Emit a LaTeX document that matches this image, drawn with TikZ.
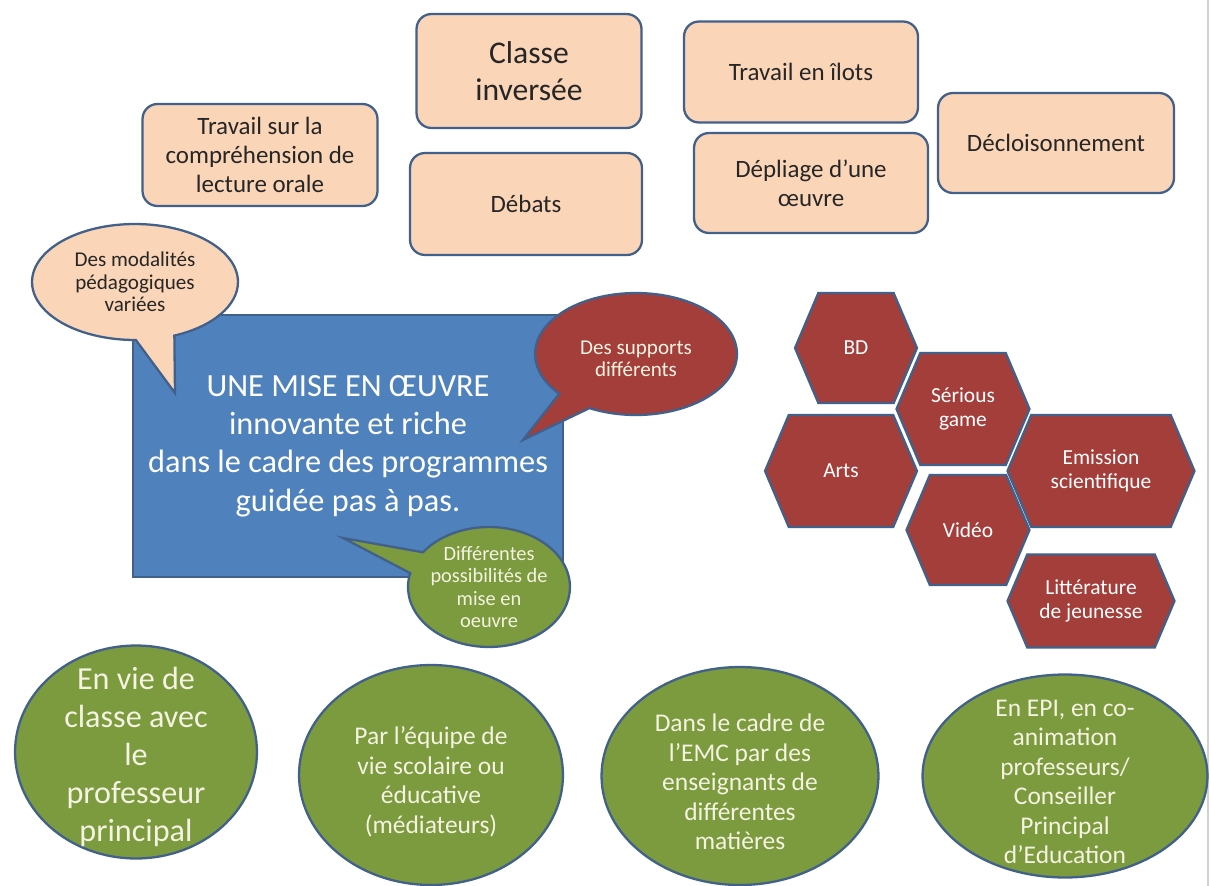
\documentclass[tikz,border=0pt]{standalone}
\usepackage{fontspec}
\setmainfont{Carlito}
\usetikzlibrary{shapes.geometric,shapes.callouts,shapes.symbols}

\definecolor{peach}{HTML}{FAD5B7}
\definecolor{outline}{HTML}{41608A}
\definecolor{bluebox}{HTML}{4F81BD}
\definecolor{brick}{HTML}{A33E3A}
\definecolor{olive}{HTML}{7C9A3E}
\definecolor{cream}{HTML}{F5F3E1}

\begin{document}
\begin{tikzpicture}[x=0.02cm,y=-0.02cm,
      box/.style={rectangle,draw=outline,line width=1.3pt,fill=peach,
                  rounded corners=0.3cm,align=center,text=black!85,
                  font=\fontsize{14.2}{16.4}\selectfont},
      central/.style={rectangle,draw=outline,line width=1.3pt,fill=bluebox,
                  align=center,text=white,
                  font=\fontsize{18.4}{21.8}\selectfont},
      bubble/.style={ellipse callout,draw=outline,line width=1.3pt,
                  callout pointer arc=22},
      bubbletext/.style={draw=none,align=center,
                  font=\fontsize{12}{12.8}\selectfont},
      hexa/.style={signal,signal to=east and west,signal pointer angle=134,
                  draw=outline,line width=1.3pt,fill=brick,align=center,
                  text=white,inner sep=1pt,font=\fontsize{12.2}{13.4}\selectfont},
      oval/.style={ellipse,draw=outline,line width=1.3pt,fill=olive},
      ovaltext/.style={draw=none,align=center,text=cream,
                  font=\fontsize{14.5}{16.8}\selectfont},
    ]
      \useasboundingbox (0,0) rectangle (1211,886);
      \draw[gray!35,line width=1pt] (1208,0) -- (1208,886);

      % modalites
      \node[box,minimum width=4.5cm,minimum height=2.28cm,
            font=\fontsize{18}{21.4}\selectfont] (classe) at (529,71) {Classe\\inversée};
      \node[box,minimum width=4.68cm,minimum height=2.02cm] (ilots) at (801,72) {Travail en îlots};
      \node[box,minimum width=4.7cm,minimum height=2.04cm] (lecture) at (260,155)
        {Travail sur la\\compréhension de\\lecture orale};
      \node[box,minimum width=4.64cm,minimum height=2.04cm] (debats) at (526,204) {Débats};
      \node[box,minimum width=4.68cm,minimum height=2cm] (depliage) at (811,183)
        {Dépliage d’une\\œuvre};
      \node[box,minimum width=4.72cm,minimum height=2cm] (decloison) at (1056,143)
        {Décloisonnement};

      % centre
      \node[central,minimum width=8.6cm,minimum height=5.24cm] (miseenoeuvre) at (348,446)
        {UNE MISE EN ŒUVRE\\innovante et riche\\dans le cadre des programmes\\guidée pas à pas.};

      % bulles
      \node[bubble,fill=peach,minimum width=4.12cm,minimum height=2.32cm,
            callout absolute pointer={(175,393)},
            label={[bubbletext,text=black!85]center:Des modalités\\pédagogiques\\variées}]
            (varie) at (135,282) {};
      \node[bubble,fill=brick,minimum width=4.04cm,minimum height=2.44cm,
            callout absolute pointer={(523,440)},
            label={[bubbletext,text=cream,yshift=-0.1cm]center:Des supports\\différents}]
            (supports) at (636,354) {};
      \node[bubble,fill=olive,minimum width=3.24cm,minimum height=2.4cm,
            callout absolute pointer={(343,538)},
            label={[bubbletext,text=cream,font=\fontsize{11.6}{12.8}\selectfont]center:Différentes\\possibilités de\\mise en\\oeuvre}]
            (possibles) at (489,587) {};

      % supports
      \node[hexa,minimum width=2.44cm,minimum height=2.2cm] (bd) at (856,348) {BD};
      \node[hexa,minimum width=2.66cm,minimum height=2.24cm] (serious) at (963,409) {Sérious\\game};
      \node[hexa,minimum width=3.04cm,minimum height=2.24cm] (arts) at (841,471) {Arts};
      \node[hexa,minimum width=3.74cm,minimum height=2.24cm] (emission) at (1101,471)
        {Emission\\scientifique};
      \node[hexa,minimum width=2.46cm,minimum height=2.2cm] (video) at (968,530) {Vidéo};
      \node[hexa,minimum width=3.34cm,minimum height=1.86cm] (litterature) at (1091,601)
        {Littérature\\de jeunesse};

      % mises en oeuvre
      \node[oval,minimum width=4.84cm,minimum height=4.26cm,
            label={[ovaltext,font=\fontsize{18.3}{21.6}\selectfont,yshift=-0.1cm]center:En vie de\\classe avec\\le\\professeur\\principal}]
            (vieclasse) at (136,752) {};
      \node[oval,minimum width=5.28cm,minimum height=4.4cm,
            label={[ovaltext,yshift=-0.14cm]center:Par l’équipe de\\vie scolaire ou\\éducative\\(médiateurs)}]
            (viescolaire) at (431,775) {};
      \node[oval,minimum width=5.54cm,minimum height=4.36cm,
            label={[ovaltext,yshift=-0.12cm]center:Dans le cadre de\\l’EMC par des\\enseignants de\\différentes\\matières}]
            (emc) at (740,776) {};
      \node[oval,minimum width=5.7cm,minimum height=4.06cm,
            label={[ovaltext,yshift=-0.12cm]center:En EPI, en co-\\animation\\professeurs/\\Conseiller\\Principal\\d’Education}]
            (epi) at (1065,776) {};
    \end{tikzpicture}
\end{document}
